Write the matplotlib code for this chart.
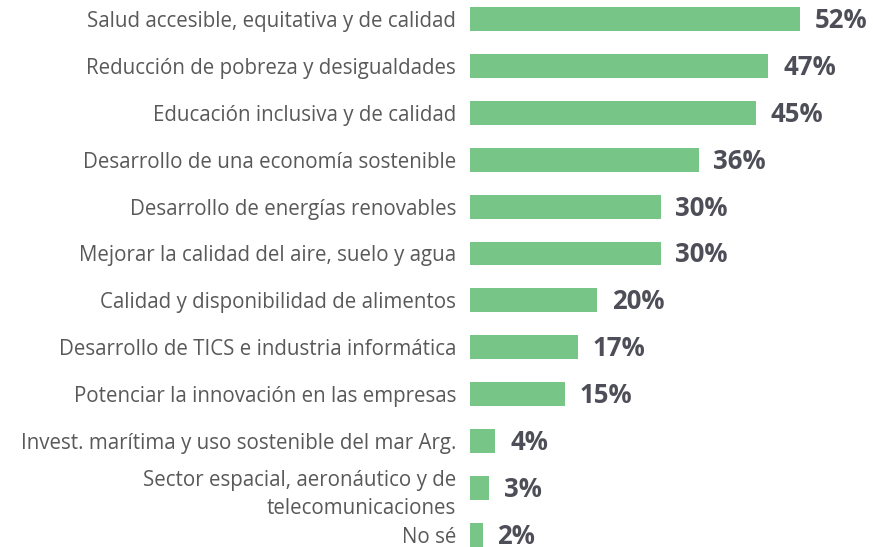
import matplotlib
matplotlib.use('Agg')
import matplotlib.pyplot as plt
import numpy as np

plt.rcParams['font.family'] = ['Open Sans', 'DejaVu Sans']

categorias = ['Salud accesible, equitativa y de calidad',
              'Reducción de pobreza y desigualdades',
              'Educación inclusiva y de calidad',
              'Desarrollo de una economía sostenible',
              'Desarrollo de energías renovables',
              'Mejorar la calidad del aire, suelo y agua',
              'Calidad y disponibilidad de alimentos',
              'Desarrollo de TICS e industria informática',
              'Potenciar la innovación en las empresas',
              'Invest. marítima y uso sostenible del mar Arg.',
              'Sector espacial, aeronáutico y de\ntelecomunicaciones',
              'No sé']
valores = [52, 47, 45, 36, 30, 30, 20, 17, 15, 4, 3, 2]

fig = plt.figure(figsize=(8.73, 5.47), dpi=100)
ax = fig.add_axes([470 / 873, 0, 1 - 470 / 873, 1])
y = np.arange(len(categorias))
ax.barh(y, valores, height=0.51, color='#78C687')
ax.set_xlim(0, (873 - 470) / 6.35)
ax.set_ylim((547 - 19) / 46.9, -19 / 46.9)

ax.set_yticks(y)
ax.set_yticklabels(categorias, fontsize=14.8, color='#595959', ha='right',
                   multialignment='right', linespacing=1.45)
ax.tick_params(axis='y', length=0, pad=10)
ax.set_xticks([])
for s in ax.spines.values():
    s.set_visible(False)

for yi, v in zip(y, valores):
    ax.text(v + 2.3, yi + 0.03, f'{v}%', va='center', ha='left', fontsize=18.5,
            fontweight='bold', color='#4E4E58')

fig.savefig('out.png', dpi=100)
